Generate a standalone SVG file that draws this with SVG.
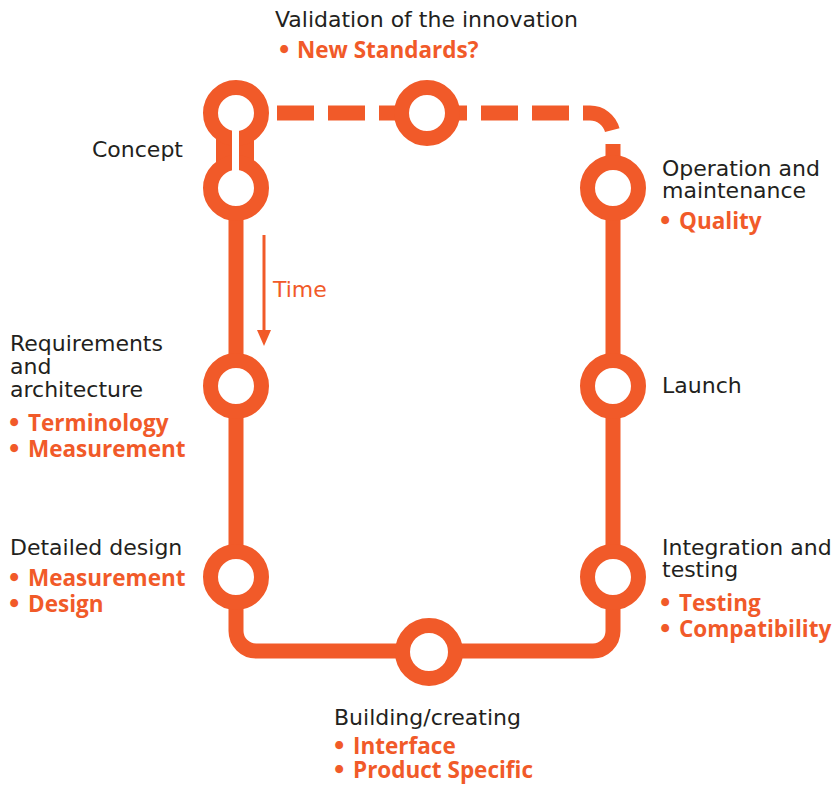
<svg xmlns="http://www.w3.org/2000/svg" width="834" height="785" viewBox="0 0 834 785">
<style>
.t{font-family:"DejaVu Sans",sans-serif;font-size:22px;fill:#231f20}
.b{font-family:"Open Sans",sans-serif;font-weight:700;font-size:22.5px;fill:#f15a29}
.bu{font-family:"DejaVu Sans",sans-serif;font-weight:700}
.ring{fill:#fff;stroke:#f15a29;stroke-width:15}
.line{fill:none;stroke:#f15a29;stroke-width:15}
</style>
<rect width="834" height="785" fill="#fff"/>
<g id="connectors">
<path class="line" d="M236 188 V631 A20 20 0 0 0 256 651 H593 A20 20 0 0 0 613 631 V188"/>
<path class="line" d="M277 113 H590 A23 23 0 0 1 613 136 V165" stroke-dasharray="37 14"/>
<rect x="216" y="136" width="38" height="30" fill="#f15a29"/>
<g id="time-arrow">
<line x1="264" y1="235" x2="264" y2="332" stroke="#f15a29" stroke-width="3"/>
<polygon points="257,330 271,330 264,346" fill="#f15a29"/>
<text x="273" y="297" class="t" style="fill:#f15a29">Time</text>
</g>
</g>
<g id="concept">
<circle class="ring" cx="236" cy="113" r="25.5"/>
<circle class="ring" cx="236" cy="188" r="25.5"/>
<rect x="232" y="128" width="7" height="45" fill="#fff"/>
<text x="92" y="157" class="t">Concept</text>
</g>
<g id="validation">
<circle class="ring" cx="427" cy="113" r="25.5"/>
<text x="275" y="27" class="t">Validation of the innovation</text>
<text y="58" class="b"><tspan class="bu" x="277">•</tspan><tspan x="297">New Standards?</tspan></text>
</g>
<g id="requirements">
<circle class="ring" cx="236" cy="386" r="25.5"/>
<text x="10" y="351" class="t">Requirements</text>
<text x="10" y="374" class="t">and</text>
<text x="10" y="397" class="t">architecture</text>
<text y="431" class="b"><tspan class="bu" x="7">•</tspan><tspan x="28">Terminology</tspan></text>
<text y="457" class="b"><tspan class="bu" x="7">•</tspan><tspan x="28">Measurement</tspan></text>
</g>
<g id="detailed-design">
<circle class="ring" cx="236" cy="577" r="25.5"/>
<text x="10" y="555" class="t">Detailed design</text>
<text y="586" class="b"><tspan class="bu" x="7">•</tspan><tspan x="28">Measurement</tspan></text>
<text y="612" class="b"><tspan class="bu" x="7">•</tspan><tspan x="28">Design</tspan></text>
</g>
<g id="building">
<circle class="ring" cx="429" cy="652" r="26.5"/>
<text x="334" y="725" class="t">Building/creating</text>
<text y="754" class="b"><tspan class="bu" x="332">•</tspan><tspan x="353">Interface</tspan></text>
<text y="778" class="b"><tspan class="bu" x="332">•</tspan><tspan x="353">Product Specific</tspan></text>
</g>
<g id="integration">
<circle class="ring" cx="613" cy="577" r="25.5"/>
<text x="662" y="555" class="t">Integration and</text>
<text x="662" y="577" class="t">testing</text>
<text y="611" class="b"><tspan class="bu" x="658">•</tspan><tspan x="679">Testing</tspan></text>
<text y="637" class="b"><tspan class="bu" x="658">•</tspan><tspan x="679">Compatibility</tspan></text>
</g>
<g id="launch">
<circle class="ring" cx="613" cy="386" r="25.5"/>
<text x="662" y="393" class="t">Launch</text>
</g>
<g id="operation">
<circle class="ring" cx="613" cy="188" r="25.5"/>
<text x="662" y="176" class="t">Operation and</text>
<text x="662" y="198" class="t">maintenance</text>
<text y="229" class="b"><tspan class="bu" x="658">•</tspan><tspan x="679">Quality</tspan></text>
</g>
</svg>
